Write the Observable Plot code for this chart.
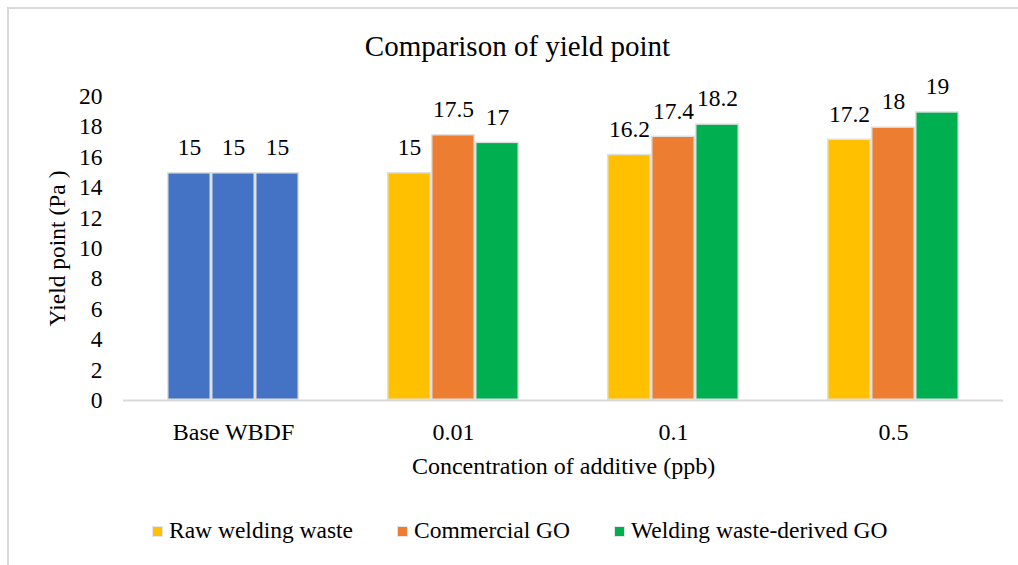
<!DOCTYPE html>
<html>
<head>
<meta charset="utf-8">
<script src="https://cdn.jsdelivr.net/npm/d3@7"></script>
<script src="https://cdn.jsdelivr.net/npm/@observablehq/plot@0.6"></script>
<style>
  html, body { margin: 0; padding: 0; background: #fff; }
  #chart { position: relative; width: 1018px; height: 565px; overflow: hidden; background: #fff;
           font-family: "Liberation Serif", "Noto Serif", "DejaVu Serif", "Times New Roman", Times, serif; color: #000; }
  .frame-top { position: absolute; left: 7px; top: 7px; width: 1100px; height: 2px; background: #d9d9d9; }
  .frame-left { position: absolute; left: 7px; top: 7px; width: 2px; height: 600px; background: #d9d9d9; }
  #title { position: absolute; left: 0; width: 1035px; top: 28px; text-align: center; font-size: 29px; line-height: 36px; }
  #plot { position: absolute; left: 0; top: 60px; }
  #legend { position: absolute; left: 152px; top: 515px; height: 30px; display: flex; align-items: center; font-size: 23.5px; white-space: nowrap; }
  #legend .item { display: flex; align-items: center; margin-right: 44px; }
  #legend .sw { width: 9px; height: 9px; border: 1px solid #e6e6e6; margin-right: 6px; margin-top: 2px; }
</style>
</head>
<body>
<div id="chart">
  <div class="frame-top"></div>
  <div class="frame-left"></div>
  <div id="title">Comparison of yield point</div>
  <div id="plot"></div>
  <div id="legend"></div>
</div>
<script>
// Concentration groups along the x axis
const categories = ["Base WBDF", "0.01", "0.1", "0.5"];
// Additive series
const seriesNames = ["Raw welding waste", "Commercial GO", "Welding waste-derived GO"];
// Yield point (Pa) per series, one value per concentration group
const rawWeldingWaste = [15, 15, 16.2, 17.2];
const commercialGO = [15, 17.5, 17.4, 18];
const weldingWasteGO = [15, 17, 18.2, 19];
const seriesColors = ["#FFC000", "#ED7D31", "#00B050"];
const baseColor = "#4472C4";
const yTicks = [0, 2, 4, 6, 8, 10, 12, 14, 16, 18, 20];

const serif = "'Liberation Serif', 'Noto Serif', 'DejaVu Serif', 'Times New Roman', Times, serif";

const seriesValues = [rawWeldingWaste, commercialGO, weldingWasteGO];
const rows = [];
categories.forEach((cat, i) => {
  seriesNames.forEach((s, j) => {
    rows.push({
      category: cat,
      series: s,
      value: seriesValues[j][i],
      // the untreated base fluid is shown in one colour for all three bars
      color: i === 0 ? baseColor : seriesColors[j]
    });
  });
});

const plot = Plot.plot({
  width: 1018,
  height: 430,
  marginLeft: 122,
  marginRight: 14,
  marginTop: 36,
  marginBottom: 90,
  style: { fontFamily: serif, fontSize: "23.5px", color: "#000", background: "transparent" },
  fx: { domain: categories, padding: 0 },
  x: { domain: seriesNames, paddingInner: 0, paddingOuter: 1, axis: null },
  y: { domain: [0, 20] },
  marks: [
    Plot.axisY({
      ticks: yTicks, tickSize: 0, tickPadding: 21, fontSize: 23.5, fontFamily: serif,
      label: "Yield point (Pa )", labelAnchor: "center", labelArrow: "none", labelOffset: 75
    }),
    Plot.axisFx({
      anchor: "bottom", tickSize: 0, tickPadding: 22, fontSize: 24, fontFamily: serif,
      label: "Concentration of additive (ppb)", labelAnchor: "center", labelArrow: "none", labelOffset: 73
    }),
    Plot.barY(rows, {
      fx: "category", x: "series", y: "value", fill: "color",
      stroke: "#e0e0e0", strokeWidth: 1.5, inset: 0.75
    }),
    Plot.ruleY([0], { stroke: "#d9d9d9", strokeWidth: 2 }),
    Plot.text(rows, {
      fx: "category", x: "series", y: "value", text: d => String(d.value),
      dy: -25, lineAnchor: "middle", fontSize: 23.5, fontFamily: serif, fill: "#000"
    })
  ]
});
document.getElementById("plot").appendChild(plot);

// Legend below the plot
const legend = document.getElementById("legend");
seriesNames.forEach((name, j) => {
  const item = document.createElement("div");
  item.className = "item";
  const sw = document.createElement("span");
  sw.className = "sw";
  sw.style.background = seriesColors[j];
  const label = document.createElement("span");
  label.textContent = name;
  item.appendChild(sw);
  item.appendChild(label);
  legend.appendChild(item);
});
</script>
</body>
</html>
